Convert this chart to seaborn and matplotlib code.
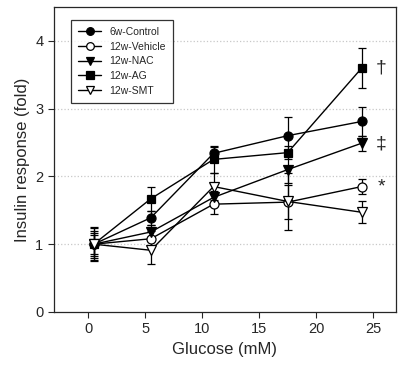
import matplotlib
matplotlib.use("Agg")
import matplotlib.pyplot as plt
import seaborn as sns
import pandas as pd

glucose = [0.5, 5.5, 11, 17.5, 24]
series = ["6w-Control", "12w-Vehicle", "12w-NAC", "12w-AG", "12w-SMT"]
control = [1.0, 1.39, 2.34, 2.60, 2.81]
control_err = [0.24, 0.10, 0.10, 0.27, 0.22]
vehicle = [1.0, 1.08, 1.59, 1.62, 1.85]
vehicle_err = [0.20, 0.12, 0.15, 0.25, 0.11]
nac = [1.0, 1.18, 1.69, 2.10, 2.49]
nac_err = [0.17, 0.10, 0.10, 0.20, 0.11]
ag = [1.0, 1.67, 2.25, 2.35, 3.60]
ag_err = [0.14, 0.18, 0.20, 0.10, 0.29]
smt = [1.0, 0.91, 1.85, 1.63, 1.47]
smt_err = [0.25, 0.20, 0.20, 0.42, 0.16]
annotations = ["\u2020", "\u2021", "*"]
annot_y = [3.6, 2.48, 1.85]

values = [control, vehicle, nac, ag, smt]
errors = [control_err, vehicle_err, nac_err, ag_err, smt_err]
markers = ["o", "o", "v", "s", "v"]
filled = [True, False, True, True, False]

sns.set_style("ticks")
plt.rcParams["font.family"] = ["Liberation Sans", "DejaVu Sans"]

fig = plt.figure(figsize=(4.05, 3.8), dpi=100)
ax = fig.add_axes([0.133, 0.179, 0.845, 0.803])

rows = []
for name, vals, errs in zip(series, values, errors):
    for g, v, e in zip(glucose, vals, errs):
        rows.append({"glucose": g, "response": v, "err": e, "series": name})
df = pd.DataFrame(rows)

for name, m, f in zip(series, markers, filled):
    sub = df[df["series"] == name]
    ax.errorbar(sub["glucose"], sub["response"], yerr=sub["err"], fmt="none",
                ecolor="black", elinewidth=0.9, capsize=3, capthick=0.9, zorder=2)
    sns.lineplot(data=sub, x="glucose", y="response", ax=ax, color="black",
                 marker=m, markersize=6.5 if m != "s" else 6,
                 markerfacecolor="black" if f else "white",
                 markeredgecolor="black", markeredgewidth=0.9,
                 linewidth=1.0, label=name, zorder=3)

for txt, y in zip(annotations, annot_y):
    ax.text(25.7, y, txt, fontsize=14, ha="center", va="center")

ax.set_xlim(-3, 27)
ax.set_ylim(0, 4.5)
ax.set_xticks([0, 5, 10, 15, 20, 25])
ax.set_yticks([0, 1, 2, 3, 4])
ax.tick_params(direction="out", length=4, width=0.8, labelsize=10.5)
for s in ax.spines.values():
    s.set_visible(True)
    s.set_linewidth(0.9)
for y in [1, 2, 3, 4]:
    ax.axhline(y, color="#c8c8c8", linestyle=":", linewidth=0.9, zorder=0)
ax.set_xlabel("Glucose (mM)", fontsize=12)
ax.set_ylabel("Insulin response (fold)", fontsize=12)

leg = ax.legend(loc="upper left", bbox_to_anchor=(0.035, 0.975), fontsize=7.5,
                frameon=True, fancybox=False, edgecolor="black", markerscale=0.85,
                handlelength=2.2, borderpad=0.7, labelspacing=0.45)
leg.get_frame().set_linewidth(0.9)

fig.savefig("out.png", dpi=100)
